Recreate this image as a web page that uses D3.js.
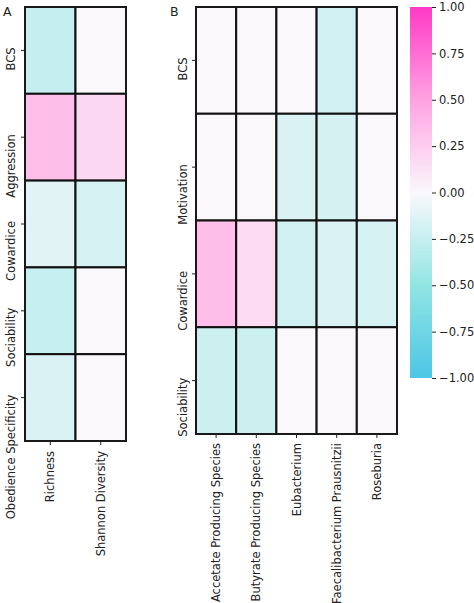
<!DOCTYPE html>
<html><head><meta charset="utf-8">
<script src="https://cdn.jsdelivr.net/npm/d3@7"></script>
<style>body{margin:0;background:#fff}text{font-family:"DejaVu Sans",sans-serif;}</style>
</head><body><svg id="c" width="474" height="603"></svg>
<script>
// Panel A
const rowsA = ["BCS","Aggression","Cowardice","Sociability","Obedience Specificity"];
const colsA = ["Richness","Shannon Diversity"];
const richness = [-0.26, 0.34, -0.12, -0.25, -0.15];
const shannon  = [0.0, 0.19, -0.17, 0.0, 0.0];
// Panel B
const rowsB = ["BCS","Motivation","Cowardice","Sociability"];
const colsB = ["Accetate Producing Species","Butyrate Producing Species","Eubacterium","Faecalibacterium Prausnitzii","Roseburia"];
const acetate     = [0.0, 0.0, 0.34, -0.22];
const butyrate    = [0.0, 0.0, 0.17, -0.22];
const eubacterium = [0.0, -0.15, -0.2, 0.0];
const faecali     = [-0.2, -0.18, -0.15, 0.0];
const roseburia   = [0.0, 0.0, -0.17, 0.0];
const cbTicks = [1, 0.75, 0.5, 0.25, 0, -0.25, -0.5, -0.75, -1];

const color = d3.scaleLinear()
  .domain([-1, -0.5, 0, 0.5, 1])
  .range(["#4cc6e6", "#92e5e3", "#faf8fb", "#ffa2e2", "#ff3ac6"]);

const svg = d3.select("#c");
const fs = 11.5;

function heatmap(g, rows, cols, cols_vals, x0, x1, y0, y1, ylabX, xlabGap) {
  const x = d3.scaleBand().domain(cols).range([x0, x1]);
  const y = d3.scaleBand().domain(rows).range([y0, y1]);
  const cells = [];
  cols.forEach((c, j) => rows.forEach((r, i) => cells.push({r, c, v: cols_vals[j][i]})));
  g.selectAll("rect.cell").data(cells).join("rect")
    .attr("x", d => x(d.c)).attr("y", d => y(d.r))
    .attr("width", x.bandwidth()).attr("height", y.bandwidth())
    .attr("fill", d => color(d.v)).attr("stroke", "#111").attr("stroke-width", 2);
  g.append("rect").attr("x", x0).attr("y", y0).attr("width", x1 - x0).attr("height", y1 - y0)
    .attr("fill", "none").attr("stroke", "#222").attr("stroke-width", 1);
  rows.forEach(r => {
    const cy = y(r) + y.bandwidth() / 2;
    g.append("line").attr("x1", x0 - 4).attr("x2", x0).attr("y1", cy).attr("y2", cy).attr("stroke", "#222");
    g.append("text").attr("transform", `translate(${ylabX},${cy - 3}) rotate(-90)`)
      .attr("text-anchor", "end").attr("dominant-baseline", "central")
      .attr("font-size", fs).attr("fill", "#222").text(r);
  });
  cols.forEach(c => {
    const cx = x(c) + x.bandwidth() / 2;
    g.append("line").attr("x1", cx).attr("x2", cx).attr("y1", y1).attr("y2", y1 + 4).attr("stroke", "#222");
    g.append("text").attr("transform", `translate(${cx},${y1 + xlabGap}) rotate(-90)`)
      .attr("text-anchor", "end").attr("dominant-baseline", "central")
      .attr("font-size", fs).attr("fill", "#222").text(c);
  });
}

heatmap(svg.append("g"), rowsA, colsA, [richness, shannon], 25, 126, 7, 441, 11, 10);
heatmap(svg.append("g"), rowsB, colsB, [acetate, butyrate, eubacterium, faecali, roseburia], 196, 397, 7, 434, 183, 9);

svg.append("text").attr("x", 3).attr("y", 16).attr("font-size", 12.5).attr("fill", "#222").text("A");
svg.append("text").attr("x", 170).attr("y", 16).attr("font-size", 12.5).attr("fill", "#222").text("B");

// Colorbar
const cb = d3.scaleLinear().domain([-1, 1]).range([378, 7]);
const defs = svg.append("defs");
const grad = defs.append("linearGradient").attr("id", "cbg").attr("x1", 0).attr("y1", 1).attr("x2", 0).attr("y2", 0);
color.domain().forEach(v => grad.append("stop").attr("offset", (v + 1) / 2).attr("stop-color", color(v)));
svg.append("rect").attr("x", 410).attr("y", cb(1)).attr("width", 22).attr("height", cb(-1) - cb(1)).attr("fill", "url(#cbg)");
const ax = svg.append("g").attr("transform", "translate(432,0)")
  .call(d3.axisRight(cb).tickValues(cbTicks).tickFormat(d3.format(".2f")).tickSize(4).tickPadding(3));
ax.select(".domain").remove();
ax.selectAll("text").attr("font-size", fs).attr("fill", "#222").attr("font-family", "DejaVu Sans");
ax.selectAll("line").attr("stroke", "#222");
</script></body></html>
